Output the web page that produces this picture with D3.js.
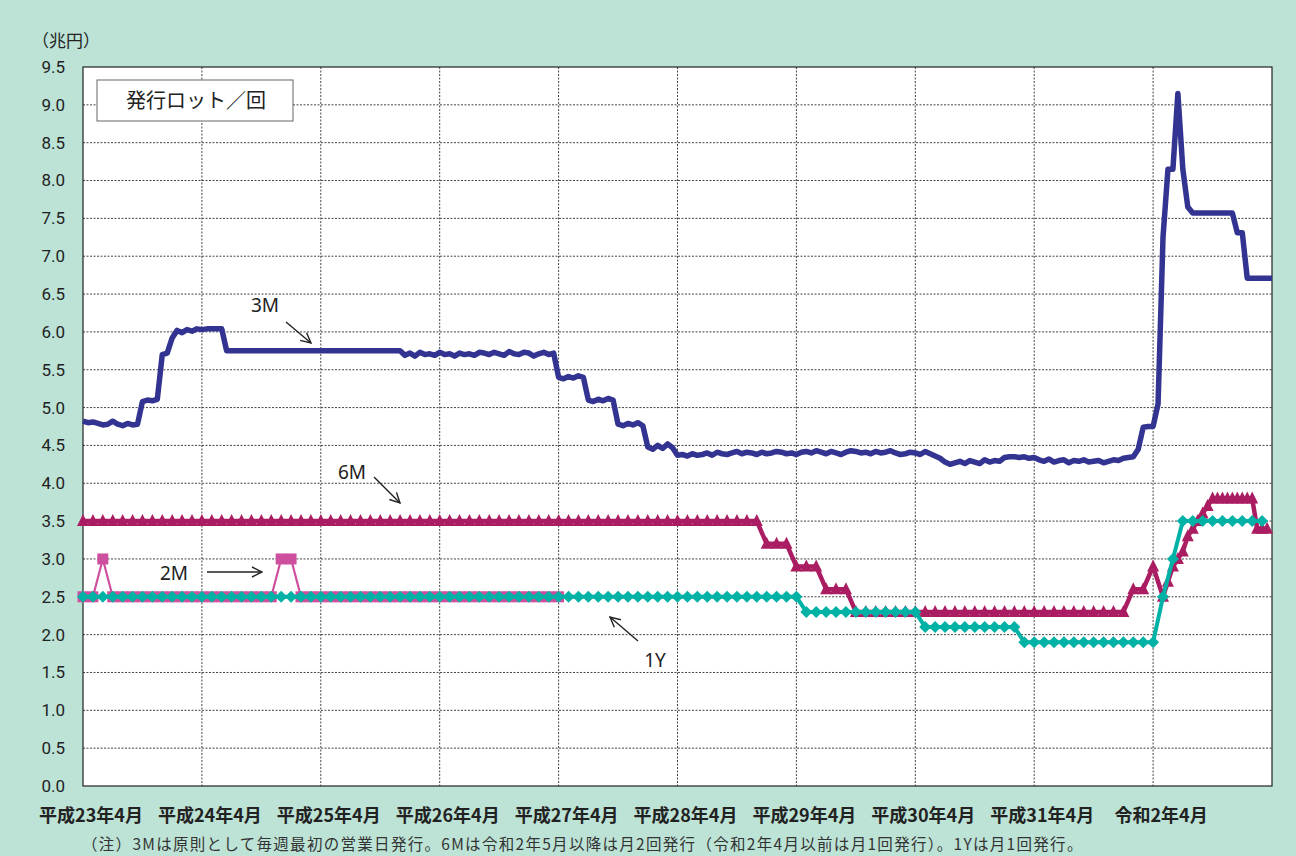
<!DOCTYPE html>
<meta charset="utf-8">
<head>
    <meta charset="utf-8">
    <title>発行ロット/回</title>
    <script src="https://d3js.org/d3.v7.min.js"></script>
    <style>
        body { margin: 0; background: #bde3d6; }
        svg text { font-family: "Noto Sans CJK JP", "Noto Sans", sans-serif; fill: #222; }
        .tick-y { font-family: Roboto, "Noto Sans", sans-serif !important; font-size: 17px; }
    </style>
</head>
<body>
<div id="my_dataviz"></div>
<script>
    // x axis labels (one per fiscal year, April)
    var yearLabels = ["平成23年4月", "平成24年4月", "平成25年4月", "平成26年4月", "平成27年4月",
                      "平成28年4月", "平成29年4月", "平成30年4月", "平成31年4月", "令和2年4月"];
    var yTicks = [0, 0.5, 1, 1.5, 2, 2.5, 3, 3.5, 4, 4.5, 5, 5.5, 6, 6.5, 7, 7.5, 8, 8.5, 9, 9.5];

    // 3M : read twice a month from April 2011 (兆円)
    var bill3M_h23 = [4.82,4.80,4.81,4.79,4.77,4.78,4.82,4.78,4.76,4.79,4.77,4.78,
                      5.08,5.10,5.09,5.11,5.70,5.72,5.92,6.02,5.99,6.03,6.01,6.04];
    var bill3M_h24 = [6.03,6.04,6.04,6.04,6.04,5.75,5.75,5.75,5.75,5.75,5.75,5.75,
                      5.75,5.75,5.75,5.75,5.75,5.75,5.75,5.75,5.75,5.75,5.75,5.75];
    var bill3M_h25 = [5.75,5.75,5.75,5.75,5.75,5.75,5.75,5.75,5.75,5.75,5.75,5.75,
                      5.75,5.75,5.75,5.75,5.75,5.69,5.72,5.68,5.73,5.70,5.71,5.69];
    var bill3M_h26 = [5.73,5.70,5.71,5.68,5.72,5.70,5.71,5.69,5.73,5.72,5.70,5.73,
                      5.71,5.69,5.74,5.71,5.70,5.73,5.72,5.68,5.71,5.73,5.70,5.72];
    var bill3M_h27 = [5.40,5.38,5.41,5.39,5.42,5.40,5.10,5.08,5.11,5.09,5.12,5.10,
                      4.78,4.76,4.79,4.77,4.80,4.76,4.48,4.45,4.50,4.46,4.52,4.47];
    var bill3M_h28 = [4.37,4.38,4.36,4.39,4.37,4.38,4.40,4.37,4.41,4.39,4.38,4.40,
                      4.42,4.39,4.41,4.40,4.38,4.41,4.39,4.40,4.42,4.41,4.39,4.40];
    var bill3M_h29 = [4.38,4.41,4.42,4.40,4.43,4.41,4.39,4.42,4.40,4.38,4.41,4.43,
                      4.42,4.40,4.41,4.39,4.42,4.40,4.41,4.43,4.40,4.38,4.39,4.41];
    var bill3M_h30 = [4.40,4.38,4.42,4.39,4.36,4.33,4.28,4.25,4.27,4.29,4.26,4.30,
                      4.28,4.26,4.31,4.28,4.30,4.29,4.34,4.35,4.35,4.34,4.35,4.33];
    var bill3M_h31 = [4.34,4.31,4.29,4.32,4.28,4.30,4.31,4.27,4.30,4.29,4.31,4.28,
                      4.29,4.30,4.27,4.29,4.31,4.30,4.33,4.34,4.35,4.45,4.74,4.75];
    var bill3M_r2  = [4.75,5.05,7.25,8.15,8.15,9.15,8.15,7.65,7.57,7.57,7.57,7.57,
                      7.57,7.57,7.57,7.57,7.57,7.31,7.31,6.71,6.71,6.71,6.71,6.71,6.71];

    // 6M : monthly until April 2020
    var bill6M_monthly = [
        3.5,3.5,3.5,3.5,3.5,3.5,3.5,3.5,3.5,3.5,3.5,3.5,
        3.5,3.5,3.5,3.5,3.5,3.5,3.5,3.5,3.5,3.5,3.5,3.5,
        3.5,3.5,3.5,3.5,3.5,3.5,3.5,3.5,3.5,3.5,3.5,3.5,
        3.5,3.5,3.5,3.5,3.5,3.5,3.5,3.5,3.5,3.5,3.5,3.5,
        3.5,3.5,3.5,3.5,3.5,3.5,3.5,3.5,3.5,3.5,3.5,3.5,
        3.5,3.5,3.5,3.5,3.5,3.5,3.5,3.5,3.5,3.2,3.2,3.2,
        2.9,2.9,2.9,2.6,2.6,2.6,2.3,2.3,2.3,2.3,2.3,2.3,
        2.3,2.3,2.3,2.3,2.3,2.3,2.3,2.3,2.3,2.3,2.3,2.3,
        2.3,2.3,2.3,2.3,2.3,2.3,2.3,2.3,2.3,2.3,2.6,2.6,
        2.9];
    // 6M : twice a month from May 2020
    var bill6M_twice = [2.5,2.7,2.9,3.0,3.1,3.3,3.4,3.5,3.6,3.7,3.8,
                        3.8,3.8,3.8,3.8,3.8,3.8,3.8,3.8,3.4,3.4,3.4];

    // 1Y : monthly
    var bill1Y = [
        2.5,2.5,2.5,2.5,2.5,2.5,2.5,2.5,2.5,2.5,2.5,2.5,
        2.5,2.5,2.5,2.5,2.5,2.5,2.5,2.5,2.5,2.5,2.5,2.5,
        2.5,2.5,2.5,2.5,2.5,2.5,2.5,2.5,2.5,2.5,2.5,2.5,
        2.5,2.5,2.5,2.5,2.5,2.5,2.5,2.5,2.5,2.5,2.5,2.5,
        2.5,2.5,2.5,2.5,2.5,2.5,2.5,2.5,2.5,2.5,2.5,2.5,
        2.5,2.5,2.5,2.5,2.5,2.5,2.5,2.5,2.5,2.5,2.5,2.5,
        2.5,2.3,2.3,2.3,2.3,2.3,2.3,2.3,2.3,2.3,2.3,2.3,
        2.3,2.1,2.1,2.1,2.1,2.1,2.1,2.1,2.1,2.1,2.1,1.9,
        1.9,1.9,1.9,1.9,1.9,1.9,1.9,1.9,1.9,1.9,1.9,1.9,
        1.9,2.5,3.0,3.5,3.5,3.5,3.5,3.5,3.5,3.5,3.5,3.5];

    // 2M : monthly, April 2011 - April 2015
    var bill2M = [
        2.5,2.5,3.0,2.5,2.5,2.5,2.5,2.5,2.5,2.5,2.5,2.5,
        2.5,2.5,2.5,2.5,2.5,2.5,2.5,2.5,3.0,3.0,2.5,2.5,
        2.5,2.5,2.5,2.5,2.5,2.5,2.5,2.5,2.5,2.5,2.5,2.5,
        2.5,2.5,2.5,2.5,2.5,2.5,2.5,2.5,2.5,2.5,2.5,2.5,
        2.5];

    var W = 1296, H = 856;
    var margin = {top: 67, left: 83},
        width = 1189,
        height = 719;

    var svg0 = d3.select("#my_dataviz").append("svg")
        .attr("width", W).attr("height", H);
    svg0.append("rect").attr("width", W).attr("height", H).attr("fill", "#bde3d6");

    var svg = svg0.append("g")
        .attr("transform", "translate(" + margin.left + "," + margin.top + ")");

    // scales: x in months from April 2011
    var x = d3.scaleLinear().domain([0, 120]).range([0, width]);
    var y = d3.scaleLinear().domain([0, 9.5]).range([height, 0]);

    svg.append("rect").attr("width", width).attr("height", height).attr("fill", "#fff");

    // grid
    svg.append("g").selectAll("line")
        .data(yTicks.filter(function(d) { return d > 0 && d < 9.5; }))
        .enter().append("line")
        .attr("x1", 0).attr("x2", width)
        .attr("y1", function(d) { return y(d); }).attr("y2", function(d) { return y(d); })
        .attr("stroke", "#444").attr("stroke-width", 1).attr("stroke-dasharray", "2,1.5");
    svg.append("g").selectAll("line")
        .data(d3.range(1, yearLabels.length))
        .enter().append("line")
        .attr("x1", function(d) { return x(d * 12); }).attr("x2", function(d) { return x(d * 12); })
        .attr("y1", 0).attr("y2", height)
        .attr("stroke", "#444").attr("stroke-width", 1).attr("stroke-dasharray", "2,1.5");

    svg.append("rect").attr("width", width).attr("height", height)
        .attr("fill", "none").attr("stroke", "#222").attr("stroke-width", 1.2);

    // y labels
    svg.append("g").selectAll("text")
        .data(yTicks).enter().append("text")
        .attr("class", "tick-y")
        .attr("x", -18).attr("y", function(d) { return y(d); })
        .attr("dy", "0.35em").attr("text-anchor", "end")
        .text(function(d) { return d.toFixed(1); });

    svg0.append("text").attr("x", 32).attr("y", 47)
        .style("font-size", "17px").text("（兆円）");

    // x labels
    svg.append("g").selectAll("text")
        .data(yearLabels).enter().append("text")
        .attr("x", function(d, i) { return x(i * 12) + 8; })
        .attr("y", height + 36)
        .attr("text-anchor", "middle")
        .style("font-size", "18px").style("font-weight", "bold")
        .text(function(d) { return d; });

    // series
    var s3M = [].concat(bill3M_h23, bill3M_h24, bill3M_h25, bill3M_h26, bill3M_h27,
                        bill3M_h28, bill3M_h29, bill3M_h30, bill3M_h31, bill3M_r2)
        .map(function(v, j) { return {t: j / 2, v: v}; });
    var s6M = bill6M_monthly.map(function(v, i) { return {t: i, v: v}; })
        .concat(bill6M_twice.map(function(v, k) { return {t: bill6M_monthly.length + k / 2, v: v}; }));
    var s1Y = bill1Y.map(function(v, i) { return {t: i, v: v}; });
    var s2M = bill2M.map(function(v, i) { return {t: i, v: v}; });

    var line = d3.line()
        .x(function(d) { return x(d.t); })
        .y(function(d) { return y(d.v); });

    function drawSeries(data, color, lw, shape) {
        var g = svg.append("g");
        g.append("path").datum(data)
            .attr("fill", "none").attr("stroke", color).attr("stroke-width", lw)
            .attr("stroke-linejoin", "round").attr("d", line);
        if (shape) {
            g.selectAll(".m").data(data).enter().append("path")
                .attr("transform", function(d) { return "translate(" + x(d.t) + "," + y(d.v) + ")"; })
                .attr("d", shape).attr("fill", color);
        }
    }

    var triangle = "M0,-7L6,5L-6,5Z",
        diamond = "M0,-6L6,0L0,6L-6,0Z",
        square = "M-5.5,-5.5H5.5V5.5H-5.5Z";

    drawSeries(s3M, "#333391", 5.5, null);
    drawSeries(s6M, "#ab1d62", 4.5, triangle);
    drawSeries(s2M, "#cf4f9f", 2.2, square);
    drawSeries(s1Y, "#00b1a6", 4, diamond);

    // legend box
    svg0.append("rect").attr("x", 97).attr("y", 80).attr("width", 196).attr("height", 41)
        .attr("fill", "#fff").attr("stroke", "#666");
    svg0.append("text").attr("x", 196).attr("y", 108).attr("text-anchor", "middle")
        .style("font-size", "20px").text("発行ロット／回");

    // annotations
    var defs = svg0.append("defs");
    defs.append("marker").attr("id", "arr").attr("viewBox", "0 0 12 12")
        .attr("refX", 11).attr("refY", 6).attr("markerWidth", 12).attr("markerHeight", 12)
        .attr("markerUnits", "userSpaceOnUse").attr("orient", "auto")
        .append("path").attr("d", "M1,1L11,6L1,11").attr("fill", "none")
        .attr("stroke", "#222").attr("stroke-width", 1.4);

    var notes = [
        {label: "3M", tx: 265, ty: 312, x1: 286, y1: 322, x2: 311, y2: 343},
        {label: "6M", tx: 352, ty: 479, x1: 374, y1: 477, x2: 400, y2: 503},
        {label: "2M", tx: 174, ty: 580, x1: 207, y1: 572, x2: 262, y2: 572},
        {label: "1Y", tx: 655, ty: 667, x1: 638, y1: 641, x2: 610, y2: 617}
    ];
    notes.forEach(function(n) {
        svg0.append("text").attr("x", n.tx).attr("y", n.ty).attr("text-anchor", "middle")
            .style("font-family", "'Noto Sans', sans-serif").style("font-size", "19px").text(n.label);
        svg0.append("line").attr("x1", n.x1).attr("y1", n.y1).attr("x2", n.x2).attr("y2", n.y2)
            .attr("stroke", "#222").attr("stroke-width", 1.4).attr("marker-end", "url(#arr)");
    });

    svg0.append("text").attr("x", 82).attr("y", 850)
        .style("font-size", "15.5px").style("fill", "#333").style("letter-spacing", "1.3px")
        .text("（注）3Mは原則として毎週最初の営業日発行。6Mは令和2年5月以降は月2回発行（令和2年4月以前は月1回発行）。1Yは月1回発行。");
</script>
</body>
